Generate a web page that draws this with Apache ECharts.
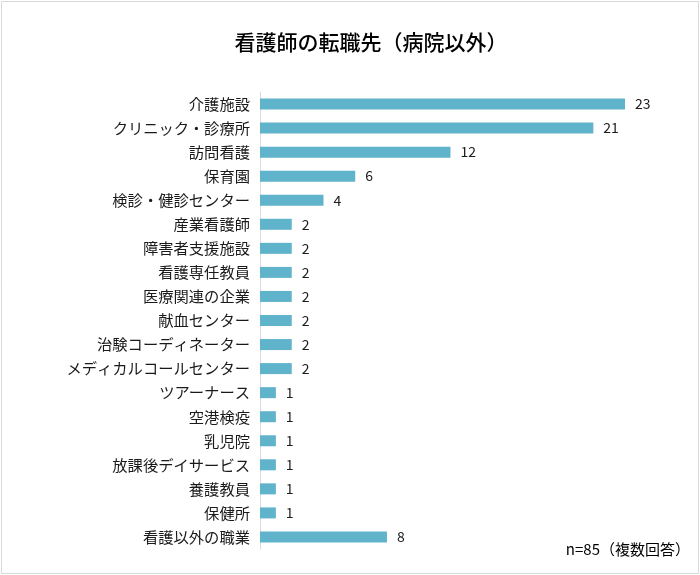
<!DOCTYPE html>
<html><head><meta charset="utf-8">
<script src="https://cdn.jsdelivr.net/npm/echarts@6/dist/echarts.min.js"></script>
<style>html,body{margin:0;padding:0;background:#fff}#c{width:700px;height:575px}</style>
</head><body><div id="c"></div>
<script>
const titleText = '看護師の転職先（病院以外）';
const noteText = 'n=85（複数回答）';
const categories = ['介護施設','クリニック・診療所','訪問看護','保育園','検診・健診センター','産業看護師','障害者支援施設','看護専任教員','医療関連の企業','献血センター','治験コーディネーター','メディカルコールセンター','ツアーナース','空港検疫','乳児院','放課後デイサービス','養護教員','保健所','看護以外の職業'];
const values = [23,21,12,6,4,2,2,2,2,2,2,2,1,1,1,1,1,1,8];

const font = '"Noto Sans CJK JP", "Noto Sans", sans-serif';
const chart = echarts.init(document.getElementById('c'));
chart.setOption({
  backgroundColor: '#fff',
  animation: false,
  title: {
    text: titleText, left: 366, top: 27, textAlign: 'center',
    textStyle: {fontFamily: font, fontSize: 21, fontWeight: 500, color: '#000'}
  },
  graphic: [
    {type: 'rect', shape: {x: 1.5, y: 1.5, width: 697, height: 572}, style: {fill: 'none', stroke: '#d9d9d9', lineWidth: 1}},
    {type: 'text', right: 10, top: 542, style: {text: noteText, fontFamily: font, fontSize: 15, fill: '#000'}}
  ],
  grid: {left: 260, top: 92, width: 396.8, height: 457, containLabel: false},
  xAxis: {type: 'value', min: 0, max: 25, show: false},
  yAxis: {
    type: 'category', data: categories, inverse: true,
    axisLine: {lineStyle: {color: '#d9d9d9', width: 1}},
    axisTick: {show: false},
    axisLabel: {fontFamily: font, fontSize: 15.3, color: '#1a1a1a', margin: 10}
  },
  series: [{
    type: 'bar', data: values, barWidth: 11,
    itemStyle: {color: '#5fb3cb'},
    label: {show: true, position: 'right', distance: 10, fontFamily: font, fontSize: 14, color: '#1a1a1a'}
  }]
});
</script></body></html>
